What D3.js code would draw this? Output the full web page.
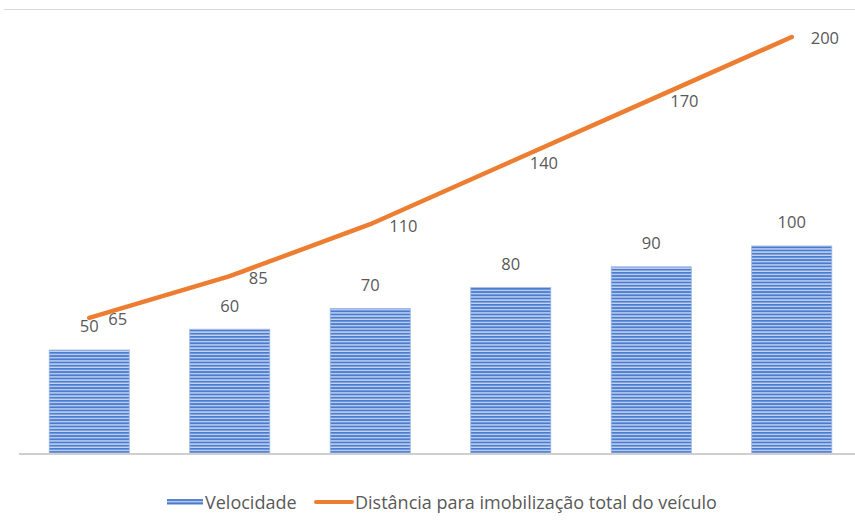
<!DOCTYPE html>
<html>
<head>
<meta charset="utf-8">
<script src="https://cdn.jsdelivr.net/npm/d3@7"></script>
<style>
  body { margin: 0; background: #fff; }
  text { font-family: "Open Sans", "Liberation Sans", sans-serif; fill: #595959; }
</style>
</head>
<body>
<div id="chart"></div>
<script>
// == Data ====================================================================

const categories = ['1', '2', '3', '4', '5', '6']
const velocidade = [50, 60, 70, 80, 90, 100]
const distancia = [65, 85, 110, 140, 170, 200]
const legendLabels = ['Velocidade', 'Distância para imobilização total do veículo']

// == Setup ===================================================================

const width = 855
const height = 529
const barBlue = '#4a7bd0'
const lightBlue = '#c4d5f1'
const orange = '#ed7d31'

const svg = d3.select('#chart')
  .append('svg')
  .attr('width', width)
  .attr('height', height)

// striped fill for the bars
const defs = svg.append('defs')
const pat = defs.append('pattern')
  .attr('id', 'stripes')
  .attr('patternUnits', 'userSpaceOnUse')
  .attr('width', 8)
  .attr('height', 3.2)
pat.append('rect').attr('width', 8).attr('height', 3.2).attr('fill', lightBlue)
pat.append('rect').attr('width', 8).attr('height', 1.8).attr('fill', barBlue)

// top border of the chart area
svg.append('line')
  .attr('x1', 4).attr('x2', width)
  .attr('y1', 9.5).attr('y2', 9.5)
  .attr('stroke', '#d9d9d9')
  .attr('stroke-width', 1)

const x = d3.scaleBand()
  .domain(categories)
  .range([19, 862])
  .paddingInner(0.43)
  .paddingOuter(0.215)

const y = d3.scaleLinear()
  .domain([0, 200])
  .range([453, 37])

// == Bars ====================================================================

svg.append('g')
  .selectAll('rect')
  .data(velocidade)
  .join('rect')
  .attr('x', (d, i) => x(categories[i]))
  .attr('y', d => y(d) + 1)
  .attr('width', x.bandwidth())
  .attr('height', d => y(0) - y(d) - 1)
  .attr('fill', 'url(#stripes)')
  .attr('stroke', '#9db6e4')
  .attr('stroke-width', 0.8)

svg.append('g')
  .selectAll('text')
  .data(velocidade)
  .join('text')
  .attr('x', (d, i) => x(categories[i]) + x.bandwidth() / 2)
  .attr('y', d => y(d) - 21)
  .attr('text-anchor', 'middle')
  .attr('dominant-baseline', 'middle')
  .attr('font-size', 16.5)
  .text(d => d)

// baseline
svg.append('line')
  .attr('x1', 19).attr('x2', width)
  .attr('y1', y(0) + 1).attr('y2', y(0) + 1)
  .attr('stroke', '#cfcfcf')
  .attr('stroke-width', 2)

// == Line ====================================================================

const line = d3.line()
  .x((d, i) => x(categories[i]) + x.bandwidth() / 2)
  .y(d => y(d))

svg.append('path')
  .attr('d', line(distancia))
  .attr('fill', 'none')
  .attr('stroke', orange)
  .attr('stroke-width', 4.5)
  .attr('stroke-linecap', 'round')

svg.append('g')
  .selectAll('text')
  .data(distancia)
  .join('text')
  .attr('x', (d, i) => x(categories[i]) + x.bandwidth() / 2 + 19)
  .attr('y', d => y(d) + 3)
  .attr('text-anchor', 'start')
  .attr('dominant-baseline', 'middle')
  .attr('font-size', 16.5)
  .text(d => d)

// == Legend ==================================================================

const legend = svg.append('g')

legend.append('rect')
  .attr('x', 167).attr('y', 499)
  .attr('width', 36).attr('height', 6)
  .attr('fill', 'url(#stripes)')
legend.append('text')
  .attr('x', 205).attr('y', 504)
  .attr('dominant-baseline', 'middle')
  .attr('font-size', 18)
  .text(legendLabels[0])

legend.append('line')
  .attr('x1', 316).attr('x2', 352)
  .attr('y1', 502).attr('y2', 502)
  .attr('stroke', orange)
  .attr('stroke-width', 4)
  .attr('stroke-linecap', 'round')
legend.append('text')
  .attr('x', 355).attr('y', 504)
  .attr('dominant-baseline', 'middle')
  .attr('font-size', 18)
  .text(legendLabels[1])
</script>
</body>
</html>
